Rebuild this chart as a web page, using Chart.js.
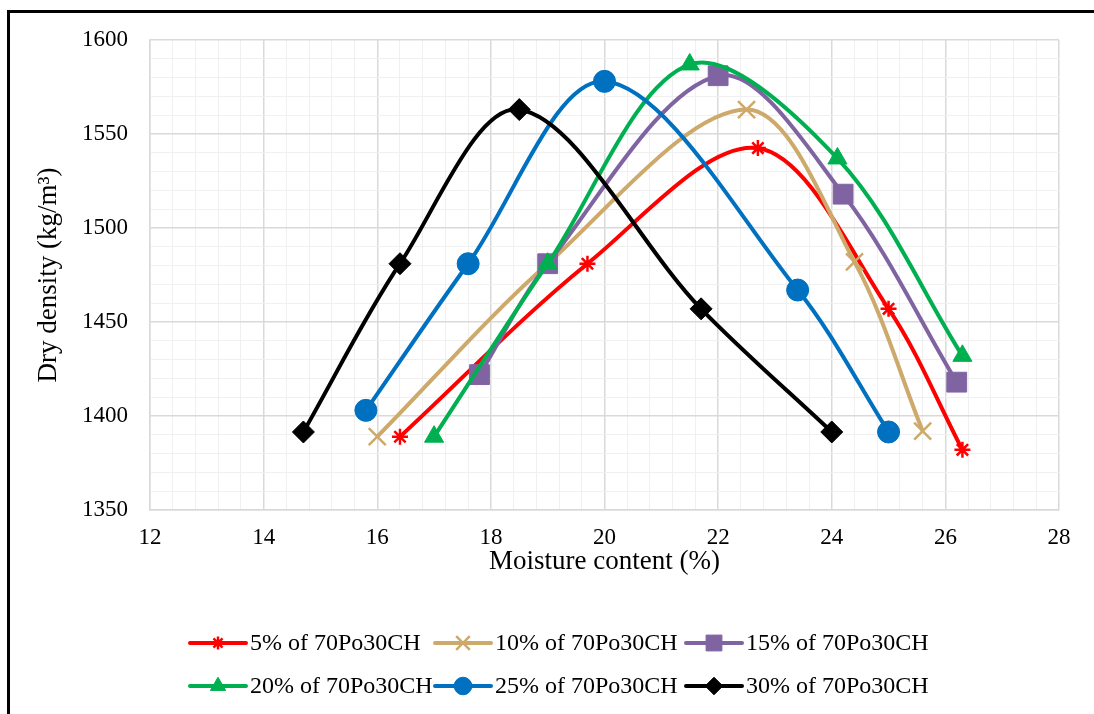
<!DOCTYPE html>
<html>
<head>
<meta charset="utf-8">
<script src="https://cdn.jsdelivr.net/npm/chart.js@4/dist/chart.umd.min.js"></script>
<style>
  html, body { margin: 0; padding: 0; background: #fff; }
  #wrap { width: 1094px; height: 714px; }
</style>
</head>
<body>
<div id="wrap"><canvas id="densityChart" width="1094" height="714"></canvas></div>
<script>
// tick labels
const xTicks = [12, 14, 16, 18, 20, 22, 24, 26, 28];
const yTicks = [1350, 1400, 1450, 1500, 1550, 1600];

// series names
const seriesNames = ['5% of 70Po30CH', '10% of 70Po30CH', '15% of 70Po30CH',
                     '20% of 70Po30CH', '25% of 70Po30CH', '30% of 70Po30CH'];

// moisture content (%) and dry density (kg/m3)
const moisture5  = [16.4, 19.7, 22.7, 25.0, 26.3];
const density5   = [1389, 1481, 1542.5, 1457, 1382];
const moisture10 = [16.0, 19.0, 22.5, 24.4, 25.6];
const density10  = [1389, 1481, 1563, 1482, 1392];
const moisture15 = [17.8, 19.0, 22.0, 24.2, 26.2];
const density15  = [1422, 1481, 1581, 1518, 1418];
const moisture20 = [17.0, 19.0, 21.5, 24.1, 26.3];
const density20  = [1389, 1481, 1587, 1537, 1432];
const moisture25 = [15.8, 17.6, 20.0, 23.4, 25.0];
const density25  = [1403, 1481, 1578, 1467, 1391.5];
const moisture30 = [14.7, 16.4, 18.5, 21.7, 24.0];
const density30  = [1391.5, 1481, 1563, 1457, 1391.5];

const seriesX = [moisture5, moisture10, moisture15, moisture20, moisture25, moisture30];
const seriesY = [density5, density10, density15, density20, density25, density30];

// look of each series
const colors = ['#FF0000', '#CDA96B', '#8064A2', '#00B050', '#0070C0', '#000000'];
const markers = ['star', 'crossRot', 'rect', 'triangle', 'circle', 'rectRot'];
const markerSize = [8, 12, 14, 11, 11, 11];
const markerLine = [2.5, 2.5, 1, 1, 1, 1];

const serif = '"Liberation Serif", "Times New Roman", serif';

function isMajor(v, list) {
    return list.some(t => Math.abs(t - v) < 1e-6);
}

const datasets = seriesNames.map((name, i) => ({
    label: name,
    data: seriesX[i].map((x, k) => ({ x: x, y: seriesY[i][k] })),
    showLine: true,
    tension: 0.33,
    borderColor: colors[i],
    backgroundColor: colors[i],
    borderWidth: 4,
    pointStyle: markers[i],
    pointRadius: markerSize[i],
    pointHoverRadius: markerSize[i],
    pointBackgroundColor: colors[i],
    pointBorderColor: colors[i],
    pointBorderWidth: markerLine[i],
    order: seriesNames.length - i   // later series on top, as in Excel
}));

// black frame on the top and left edge of the figure
const framePlugin = {
    id: 'frame',
    beforeDraw(chart) {
        const ctx = chart.ctx;
        ctx.save();
        ctx.fillStyle = '#fff';
        ctx.fillRect(0, 0, chart.width, chart.height);
        ctx.strokeStyle = '#000';
        ctx.lineWidth = 3;
        ctx.beginPath();
        ctx.moveTo(8.5, chart.height);
        ctx.lineTo(8.5, 11.5);
        ctx.lineTo(chart.width, 11.5);
        ctx.stroke();
        ctx.restore();
    }
};

// legend drawn as line + marker, two rows of three
const legendPlugin = {
    id: 'lineLegend',
    afterDraw(chart) {
        const ctx = chart.ctx;
        const colX = [190, 435, 686];
        const rowY = [643, 686];
        const lineLen = 56;
        ctx.save();
        ctx.font = '24px ' + serif;
        ctx.textBaseline = 'middle';
        ctx.textAlign = 'left';
        chart.data.datasets.forEach((ds, i) => {
            const x0 = colX[i % 3];
            const y0 = rowY[Math.floor(i / 3)];
            ctx.strokeStyle = ds.borderColor;
            ctx.lineWidth = 4;
            ctx.lineCap = 'round';
            ctx.beginPath();
            ctx.moveTo(x0, y0);
            ctx.lineTo(x0 + lineLen, y0);
            ctx.stroke();
            ctx.lineCap = 'butt';
            ctx.fillStyle = ds.pointBackgroundColor;
            ctx.strokeStyle = ds.pointBorderColor;
            ctx.lineWidth = ds.pointBorderWidth;
            Chart.helpers.drawPoint(ctx, {
                pointStyle: ds.pointStyle,
                rotation: 0,
                radius: ds.pointRadius * 0.8,
                borderWidth: ds.pointBorderWidth
            }, x0 + lineLen / 2, y0);
            ctx.fillStyle = '#000';
            ctx.fillText(ds.label, x0 + lineLen + 4, y0 + 1);
        });
        ctx.restore();
    }
};

new Chart(document.getElementById('densityChart'), {
    type: 'scatter',
    data: { datasets: datasets },
    plugins: [framePlugin, legendPlugin],
    options: {
        responsive: false,
        animation: false,
        layout: { padding: { left: 0, top: 40, right: 35, bottom: 134 } },
        plugins: {
            legend: { display: false },
            tooltip: { enabled: false }
        },
        scales: {
            x: {
                type: 'linear',
                min: 12,
                max: 28,
                afterFit(scale) { scale.height = 70; },
                grid: {
                    drawTicks: false,
                    color: c => isMajor(c.tick.value, xTicks) ? '#d9d9d9' : '#f0f0f0',
                    lineWidth: c => isMajor(c.tick.value, xTicks) ? 1.5 : 1
                },
                border: { color: '#d9d9d9', width: 1.5 },
                ticks: {
                    stepSize: 0.4,
                    maxTicksLimit: 100,
                    autoSkip: false,
                    maxRotation: 0,
                    padding: 14,
                    color: '#000',
                    font: { family: serif, size: 23 },
                    callback: v => isMajor(v, xTicks) ? String(Math.round(v)) : ''
                },
                title: {
                    display: true,
                    text: 'Moisture content (%)',
                    color: '#000',
                    font: { family: serif, size: 27 },
                    padding: { top: 0, bottom: 2 }
                }
            },
            y: {
                type: 'linear',
                min: 1350,
                max: 1600,
                afterFit(scale) { scale.width = 150; },
                grid: {
                    drawTicks: false,
                    color: c => isMajor(c.tick.value, yTicks) ? '#d9d9d9' : '#f0f0f0',
                    lineWidth: c => isMajor(c.tick.value, yTicks) ? 1.5 : 1
                },
                border: { color: '#d9d9d9', width: 1.5 },
                ticks: {
                    stepSize: 10,
                    maxTicksLimit: 100,
                    autoSkip: false,
                    padding: 22,
                    color: '#000',
                    font: { family: serif, size: 23 },
                    callback: v => isMajor(v, yTicks) ? String(Math.round(v)) : ''
                },
                title: {
                    display: true,
                    text: 'Dry density (kg/m³)',
                    color: '#000',
                    font: { family: serif, size: 27 },
                    padding: { top: 33, bottom: 0 }
                }
            }
        }
    }
});
</script>
</body>
</html>
